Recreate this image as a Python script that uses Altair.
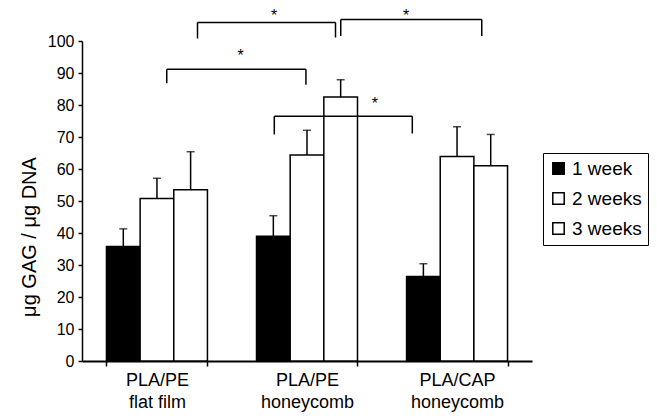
import altair as alt
import pandas as pd

categories = ["PLA/PE\nflat film", "PLA/PE\nhoneycomb", "PLA/CAP\nhoneycomb"]
weeks = ["1 week", "2 weeks", "3 weeks"]
y_title = "μg GAG / μg DNA"
means = [
    [35.8, 50.8, 53.5],
    [39.0, 64.4, 82.5],
    [26.4, 63.9, 61.0],
]
uppers = [
    [41.3, 57.1, 65.4],
    [45.4, 72.1, 87.9],
    [30.4, 73.2, 70.8],
]

# significance brackets (x in group units 0..3, y in data units)
brk_x1 = [0.77, 1.725, 0.565, 1.282]
brk_x2 = [1.69, 2.665, 1.493, 2.202]
brk_y = [105.8, 106.7, 91.2, 76.5]
brk_yl = [100.8, 101.6, 86.8, 70.8]
brk_yr = [101.1, 101.6, 86.3, 71.1]
star_x = [1.28, 2.16, 1.058, 1.953]
star_y = [108.6, 108.8, 96.2, 81.1]

rows = []
for ci, c in enumerate(categories):
    for wi, w in enumerate(weeks):
        rows.append({"category": c, "week": w, "value": means[ci][wi], "upper": uppers[ci][wi]})
df = pd.DataFrame(rows)

brk = pd.DataFrame({"x1": brk_x1, "x2": brk_x2, "y": brk_y, "yl": brk_yl, "yr": brk_yr,
                    "sx": star_x, "sy": star_y})

FONT = "Liberation Sans"
H = 320
yscale = alt.Scale(domain=[0, 100], nice=False, zero=True)

xaxis = alt.Axis(title=None, labelAngle=0, labelExpr="split(datum.label, '\\n')",
                 labelFontSize=18, labelLineHeight=22, labelPadding=5,
                 labelColor="black", labelFont=FONT,
                 tickBand="extent", tickSize=5, tickColor="black", tickWidth=1.5,
                 domainColor="black", domainWidth=2)
yaxis = alt.Axis(title=None, values=list(range(0, 101, 10)),
                 grid=False, tickSize=4, tickColor="black", tickWidth=1.5,
                 domainColor="black", domainWidth=1.5, labelPadding=4,
                 labelFontSize=16, labelColor="black", labelFont=FONT,
                 labelOverlap=False)

xscale = alt.Scale(paddingInner=0.327, paddingOuter=0.163)
xoff = alt.XOffset("week:N", sort=weeks, scale=alt.Scale(paddingInner=0, paddingOuter=0))

bars = alt.Chart(df).mark_bar(stroke="black", strokeWidth=1.5).encode(
    x=alt.X("category:N", sort=categories, scale=xscale, axis=xaxis),
    xOffset=xoff,
    y=alt.Y("value:Q", scale=yscale, axis=yaxis),
    color=alt.Color("week:N", sort=weeks,
                    scale=alt.Scale(domain=weeks, range=["black", "white", "white"]),
                    legend=alt.Legend(title=None, orient="none", legendX=461, legendY=112,
                                      symbolType="square", symbolSize=130,
                                      symbolStrokeColor="black", symbolStrokeWidth=1.5,
                                      labelFontSize=19, labelFont=FONT, labelColor="black",
                                      rowPadding=10, padding=6, strokeColor="black",
                                      fillColor="white", labelOffset=4)),
)

err = alt.Chart(df).mark_rule(color="black", strokeWidth=1.5).encode(
    x=alt.X("category:N", sort=categories, scale=xscale, axis=None), xOffset=xoff,
    y=alt.Y("value:Q", scale=yscale, axis=None), y2="upper:Q")

caps = alt.Chart(df).mark_tick(color="black", thickness=1.5, size=8, orient="horizontal").encode(
    x=alt.X("category:N", sort=categories, scale=xscale, axis=None), xOffset=xoff,
    y=alt.Y("upper:Q", scale=yscale, axis=None))

bx = alt.Scale(domain=[0, 3], nice=False, zero=False)
hline = alt.Chart(brk).mark_rule(color="black", strokeWidth=1.5).encode(
    x=alt.X("x1:Q", scale=bx, axis=None), x2="x2:Q",
    y=alt.Y("y:Q", scale=yscale, axis=None))
lleg = alt.Chart(brk).mark_rule(color="black", strokeWidth=1.5).encode(
    x=alt.X("x1:Q", scale=bx, axis=None),
    y=alt.Y("y:Q", scale=yscale, axis=None), y2="yl:Q")
rleg = alt.Chart(brk).mark_rule(color="black", strokeWidth=1.5).encode(
    x=alt.X("x2:Q", scale=bx, axis=None),
    y=alt.Y("y:Q", scale=yscale, axis=None), y2="yr:Q")
stars = alt.Chart(brk).mark_text(text="*", fontSize=16, font=FONT, color="black",
                                 baseline="middle", dy=3).encode(
    x=alt.X("sx:Q", scale=bx, axis=None),
    y=alt.Y("sy:Q", scale=yscale, axis=None))

ytitle = alt.Chart(pd.DataFrame({"t": [y_title]})).mark_text(
    fontSize=20, font=FONT, color="black", angle=270, align="center", baseline="middle"
).encode(text="t:N", x=alt.value(-52), y=alt.value(196))

chart = alt.layer(bars, err, caps, hline, lleg, rleg, stars, ytitle).resolve_scale(
    x="independent").resolve_axis(x="independent", y="independent").properties(
    width=450, height=H,
    background="white",
    autosize=alt.AutoSizeParams(type="none"),
    padding={"left": 74, "top": 33, "right": 117, "bottom": 51},
).configure_view(strokeWidth=0)

chart.save("out.html", embed_options={"renderer": "svg", "actions": False})
